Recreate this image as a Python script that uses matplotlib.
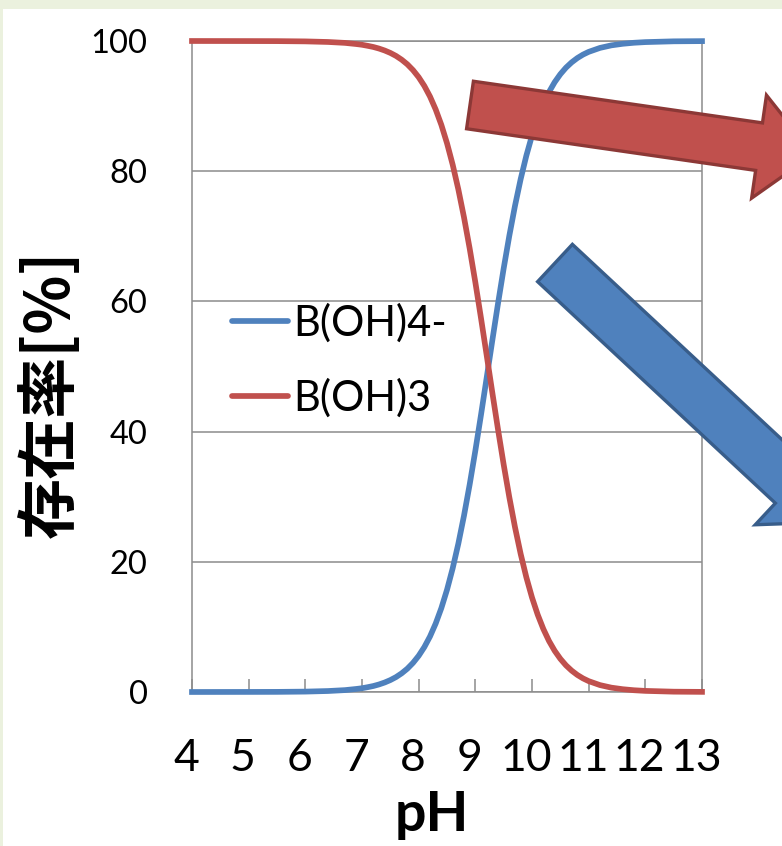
import matplotlib
matplotlib.use("Agg")
import matplotlib.pyplot as plt
from matplotlib.patches import FancyArrow, Rectangle
from matplotlib.transforms import ScaledTranslation

# values
ph = [4.0, 5.0, 5.5, 6.0, 6.4, 6.7, 6.9,
      7.0, 7.1, 7.2, 7.3, 7.4, 7.5, 7.6, 7.7, 7.8, 7.9,
      8.0, 8.1, 8.2, 8.3, 8.4, 8.5, 8.6, 8.7, 8.8, 8.9,
      9.0, 9.1, 9.2, 9.3, 9.4, 9.5, 9.6, 9.7, 9.8, 9.9,
      10.0, 10.1, 10.2, 10.3, 10.4, 10.5, 10.6, 10.7, 10.8, 10.9,
      11.0, 11.2, 11.4, 11.6, 11.8, 12.0, 12.5, 13.0]
b_oh4 = [0.00, 0.01, 0.02, 0.06, 0.15, 0.29, 0.47,
         0.58, 0.74, 0.92, 1.16, 1.46, 1.83, 2.29, 2.87, 3.58, 4.47,
         5.56, 6.90, 8.53, 10.51, 12.88, 15.70, 18.99, 22.79, 27.09, 31.87,
         37.06, 42.57, 48.27, 54.02, 59.66, 65.06, 70.10, 74.69, 78.79, 82.38,
         85.48, 88.11, 90.32, 92.16, 93.67, 94.90, 95.91, 96.72, 97.38, 97.91,
         98.33, 98.94, 99.33, 99.57, 99.73, 99.83, 99.95, 99.98]
b_oh3 = [100.00, 99.99, 99.98, 99.94, 99.85, 99.71, 99.53,
         99.42, 99.26, 99.08, 98.84, 98.54, 98.17, 97.71, 97.13, 96.42, 95.53,
         94.44, 93.10, 91.47, 89.49, 87.12, 84.30, 81.01, 77.21, 72.91, 68.13,
         62.94, 57.43, 51.73, 45.98, 40.34, 34.94, 29.90, 25.31, 21.21, 17.62,
         14.52, 11.89, 9.68, 7.84, 6.33, 5.10, 4.09, 3.28, 2.62, 2.09,
         1.67, 1.06, 0.67, 0.43, 0.27, 0.17, 0.05, 0.02]
series_labels = ["B(OH)4-", "B(OH)3"]
x_ticks = [4, 5, 6, 7, 8, 9, 10, 11, 12, 13]
y_ticks = [0, 20, 40, 60, 80, 100]

BLUE, RED = "#4F81BD", "#C0504D"
GRID = "#8C8C8C"
W, H = 782, 846

fig = plt.figure(figsize=(W / 100, H / 100), dpi=100, facecolor="#EBF1DE")
fig.patches.append(Rectangle((3 / W, 0), 1, (H - 9) / H, transform=fig.transFigure,
                             facecolor="white", edgecolor="none", zorder=-10))

ax = fig.add_axes([192 / W, 1 - 692 / H, 510 / W, 651 / H], zorder=1)
ax.set_xlim(4, 13); ax.set_ylim(0, 100)
ax.set_xticks(x_ticks); ax.set_yticks(y_ticks)
ax.grid(axis="y", color=GRID, lw=1.1)
ax.set_axisbelow(True)
for s in ax.spines.values():
    s.set_color(GRID); s.set_linewidth(1.1)
ax.tick_params(axis="x", direction="in", length=9.5, width=1.1, color=GRID, pad=33,
               labelsize=32)
ax.tick_params(axis="y", length=0, pad=32, labelsize=23.5)
shift = ScaledTranslation(-6 / 100, 0, fig.dpi_scale_trans)
for lab in ax.get_xticklabels():
    lab.set_family("Lato")
    lab.set_transform(lab.get_transform() + shift)
for lab in ax.get_yticklabels():
    lab.set_family("Lato")

ax.plot(ph, b_oh4, color=BLUE, lw=4.1, clip_on=False, label=series_labels[0], zorder=3,
        solid_joinstyle="round")
ax.plot(ph, b_oh3, color=RED, lw=4.1, clip_on=False, label=series_labels[1], zorder=3,
        solid_joinstyle="round")

leg = ax.legend(loc="upper left", bbox_to_anchor=(232 / W, 1 - 303 / H),
                bbox_transform=fig.transFigure, frameon=False, prop={"family": "Lato", "size": 30},
                handlelength=1.34, handletextpad=0.12, labelspacing=0.86, borderpad=0,
                borderaxespad=0)
for h in leg.get_lines():
    h.set_solid_capstyle("round")

fig.text(432 / W, 1 - 815 / H, "pH", ha="center", va="center", fontsize=40,
         fontweight="bold", family="Lato")
fig.text(51 / W, 1 - 394 / H, "存在率[%]", ha="center", va="center", rotation=90,
         fontsize=44, fontweight="bold", family=["Noto Sans CJK JP", "DejaVu Sans"])

# decorative block arrows in pixel space
ov = fig.add_axes([0, 0, 1, 1], zorder=5)
ov.set_xlim(0, W); ov.set_ylim(H, 0); ov.axis("off")
ov.add_patch(FancyArrow(470, 105, 343.5, 49.5, width=48, head_width=104, head_length=55,
                        length_includes_head=True, facecolor=RED, edgecolor="#8C3836",
                        lw=2.4, joinstyle="miter", clip_on=False))
ov.add_patch(FancyArrow(555, 263, 278, 259, width=51, head_width=110, head_length=55,
                        length_includes_head=True, facecolor=BLUE, edgecolor="#385D8A",
                        lw=2.4, joinstyle="miter", clip_on=False))

fig.savefig("out.png", dpi=100, facecolor=fig.get_facecolor())
